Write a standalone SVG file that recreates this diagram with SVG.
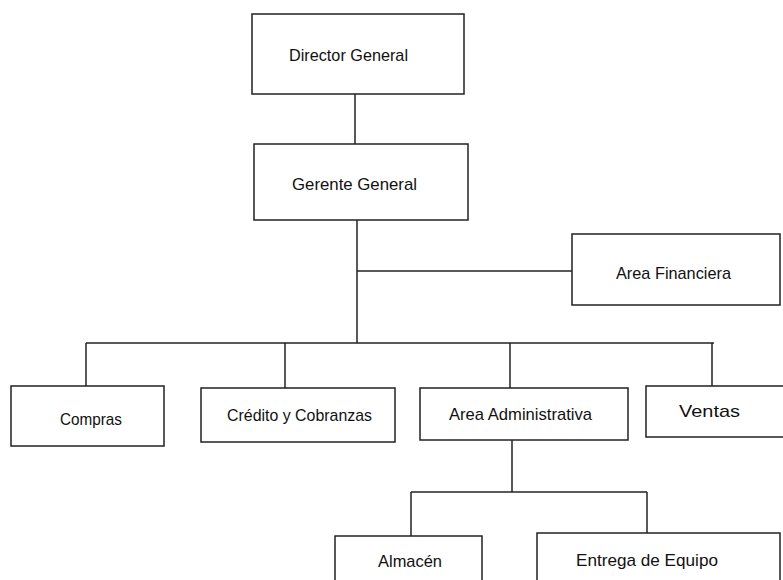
<svg xmlns="http://www.w3.org/2000/svg" width="783" height="580" viewBox="0 0 783 580">
<style>
.box{fill:#fff;stroke:#222;stroke-width:1.5}
.ln{fill:none;stroke:#222;stroke-width:1.5}
text{font-family:"Liberation Sans",Arial,sans-serif;font-size:17px;fill:#111}
</style>
<rect width="783" height="580" fill="#fff"/>
<g id="connectors">
<path class="ln" d="M355,94V144"/>
<path class="ln" d="M357,220V343"/>
<path class="ln" d="M357,271H572"/>
<path class="ln" d="M86,343H714"/>
<path class="ln" d="M86,343V386"/>
<path class="ln" d="M285,343V388"/>
<path class="ln" d="M510,343V388"/>
<path class="ln" d="M712,343V386"/>
<path class="ln" d="M512,440V492"/>
<path class="ln" d="M411,492H647"/>
<path class="ln" d="M411,492V536"/>
<path class="ln" d="M647,492V533"/>
</g>
<g id="director">
<rect class="box" x="252" y="14" width="212" height="80"/>
<text x="289" y="61" textLength="119" lengthAdjust="spacingAndGlyphs">Director General</text>
</g>
<g id="gerente">
<rect class="box" x="254" y="144" width="214" height="76"/>
<text x="292" y="190" textLength="125" lengthAdjust="spacingAndGlyphs">Gerente  General</text>
</g>
<g id="financiera">
<rect class="box" x="572" y="234" width="208" height="71"/>
<text x="616" y="279" textLength="115" lengthAdjust="spacingAndGlyphs">Area Financiera</text>
</g>
<g id="compras">
<rect class="box" x="11" y="386" width="153" height="60"/>
<text x="60" y="425" textLength="62" lengthAdjust="spacingAndGlyphs">Compras</text>
</g>
<g id="credito">
<rect class="box" x="201" y="388" width="194" height="54"/>
<text x="227" y="421" textLength="145" lengthAdjust="spacingAndGlyphs">Crédito y Cobranzas</text>
</g>
<g id="administrativa">
<rect class="box" x="420" y="388" width="208" height="52"/>
<text x="449" y="420" textLength="143" lengthAdjust="spacingAndGlyphs">Area Administrativa</text>
</g>
<g id="ventas">
<rect class="box" x="646" y="386" width="142" height="51"/>
<text x="679" y="417" textLength="61" lengthAdjust="spacingAndGlyphs">Ventas</text>
</g>
<g id="almacen">
<rect class="box" x="335" y="536" width="147" height="60"/>
<text x="378" y="567" textLength="64" lengthAdjust="spacingAndGlyphs">Almacén</text>
</g>
<g id="entrega">
<rect class="box" x="537" y="533" width="243" height="60"/>
<text x="576" y="566" textLength="142" lengthAdjust="spacingAndGlyphs">Entrega de Equipo</text>
</g>
</svg>
